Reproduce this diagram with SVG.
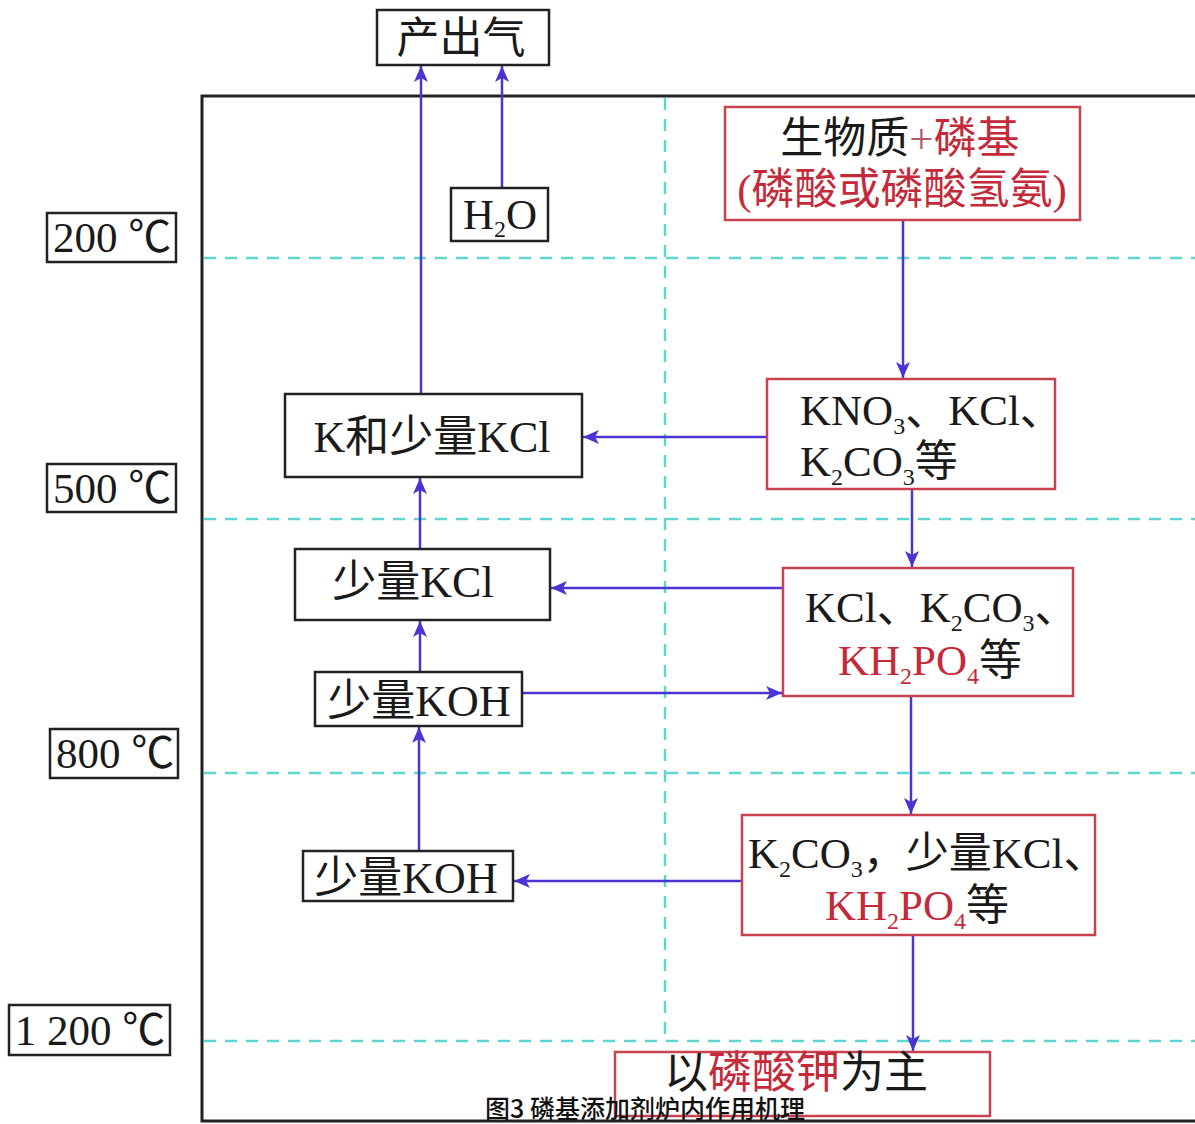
<svg xmlns="http://www.w3.org/2000/svg" width="1195" height="1124" viewBox="0 0 1195 1124">
<style>
.t{font-family:"Liberation Serif","Noto Sans CJK SC",serif;font-size:43px;fill:#1a1a1a}
.l{font-size:44px}
.r{fill:#c42a3a}
.s{font-size:24px}
.bk{fill:#fff;stroke:#222;stroke-width:2.5}
.br{fill:#fff;stroke:#c8414f;stroke-width:2.5}
.grid{stroke:#5fd6cf;stroke-width:2.5;stroke-dasharray:12 9;fill:none}
.ar{stroke:#4a35d2;stroke-width:2.5;fill:none;marker-end:url(#ah)}
.cap{font-family:"Noto Sans CJK SC","Noto Sans",sans-serif;font-size:25px;font-weight:500;fill:#111}
</style>
<defs>
<marker id="ah" viewBox="0 0 16 14" refX="16" refY="7" markerWidth="16" markerHeight="14" markerUnits="userSpaceOnUse" orient="auto">
<path d="M0,0 L16,7 L0,14 L4,7 z" fill="#4a35d2"/>
</marker>
</defs>
<rect x="0" y="0" width="1195" height="1124" fill="#fff"/>
<g id="frame">
<rect x="202" y="96" width="1010" height="1025" fill="none" stroke="#222" stroke-width="3"/>
<line class="grid" x1="204" y1="258" x2="1195" y2="258"/>
<line class="grid" x1="204" y1="519" x2="1195" y2="519"/>
<line class="grid" x1="204" y1="773" x2="1195" y2="773"/>
<line class="grid" x1="204" y1="1041" x2="1195" y2="1041"/>
<line class="grid" x1="665" y1="98" x2="665" y2="1041"/>
</g>
<g id="connectors">
<line class="ar" x1="421" y1="394" x2="421" y2="66"/>
<line class="ar" x1="502" y1="188" x2="502" y2="66"/>
<line class="ar" x1="903" y1="220" x2="903" y2="378"/>
<line class="ar" x1="767" y1="437" x2="583" y2="437"/>
<line class="ar" x1="912" y1="489" x2="912" y2="567"/>
<line class="ar" x1="783" y1="588" x2="551" y2="588"/>
<line class="ar" x1="420" y1="549" x2="420" y2="478"/>
<line class="ar" x1="420" y1="672" x2="420" y2="621"/>
<line class="ar" x1="522" y1="693" x2="782" y2="693"/>
<line class="ar" x1="911" y1="696" x2="911" y2="814"/>
<line class="ar" x1="419" y1="851" x2="419" y2="727"/>
<line class="ar" x1="742" y1="881" x2="514" y2="881"/>
<line class="ar" x1="913" y1="935" x2="913" y2="1051"/>
</g>
<g id="out">
<rect class="bk" x="377" y="10" width="172" height="55"/>
<text class="t" x="461" y="53" text-anchor="middle" font-size="41">产出气</text>
</g>
<g id="h2o">
<rect class="bk" x="451" y="188" width="97" height="53"/>
<text class="t" x="500" y="229" text-anchor="middle" font-size="42">H<tspan class="s" dy="8">2</tspan><tspan dy="-8">O</tspan></text>
</g>
<g id="t200">
<rect class="bk" x="47" y="213" width="129" height="49"/>
<text class="t" x="112" y="252" text-anchor="middle" font-size="41">200 ℃</text>
</g>
<g id="t500">
<rect class="bk" x="47" y="464" width="129" height="48"/>
<text class="t" x="112" y="503" text-anchor="middle" font-size="41">500 ℃</text>
</g>
<g id="t800">
<rect class="bk" x="50" y="729" width="128" height="49"/>
<text class="t" x="115" y="768" text-anchor="middle" font-size="41">800 ℃</text>
</g>
<g id="t1200">
<rect class="bk" x="9" y="1005" width="161" height="50"/>
<text class="t" x="90" y="1045" text-anchor="middle" font-size="41">1 200 ℃</text>
</g>
<g id="biomass">
<rect class="br" x="725" y="107" width="355" height="113"/>
<text class="t" x="900" y="153" text-anchor="middle">生物质<tspan fill="#b05a68">+</tspan><tspan class="r">磷基</tspan></text>
<text class="t r" x="902" y="204" text-anchor="middle" font-size="44">(磷酸或磷酸氢氨)</text>
</g>
<g id="kno3">
<rect class="br" x="767" y="379" width="288" height="110"/>
<text class="t" x="800" y="425">KNO<tspan class="s" dy="9">3</tspan><tspan dy="-9">、KCl、</tspan></text>
<text class="t" x="800" y="476">K<tspan class="s" dy="9">2</tspan><tspan dy="-9">CO</tspan><tspan class="s" dy="9">3</tspan><tspan dy="-9">等</tspan></text>
</g>
<g id="kcl-k2co3">
<rect class="br" x="783" y="568" width="290" height="128"/>
<text class="t" x="805" y="622">KCl、K<tspan class="s" dy="9">2</tspan><tspan dy="-9">CO</tspan><tspan class="s" dy="9">3</tspan><tspan dy="-9">、</tspan></text>
<text class="t" x="838" y="675"><tspan class="r">KH</tspan><tspan class="r s" dy="9">2</tspan><tspan class="r" dy="-9">PO</tspan><tspan class="r s" dy="9">4</tspan><tspan dy="-9">等</tspan></text>
</g>
<g id="k2co3-kcl">
<rect class="br" x="742" y="815" width="353" height="120"/>
<text class="t" x="748" y="868">K<tspan class="s" dy="9">2</tspan><tspan dy="-9">CO</tspan><tspan class="s" dy="9">3</tspan><tspan dy="-9">，少量KCl、</tspan></text>
<text class="t" x="825" y="920"><tspan class="r">KH</tspan><tspan class="r s" dy="9">2</tspan><tspan class="r" dy="-9">PO</tspan><tspan class="r s" dy="9">4</tspan><tspan dy="-9">等</tspan></text>
</g>
<g id="k3po4">
<rect class="br" x="615" y="1052" width="375" height="64"/>
<text class="t l" x="796" y="1088" text-anchor="middle">以<tspan class="r">磷酸钾</tspan>为主</text>
</g>
<g id="k-kcl">
<rect class="bk" x="285" y="394" width="297" height="83"/>
<text class="t l" x="432" y="452" text-anchor="middle">K和少量KCl</text>
</g>
<g id="kcl-small">
<rect class="bk" x="295" y="549" width="255" height="71"/>
<text class="t l" x="413" y="597" text-anchor="middle">少量KCl</text>
</g>
<g id="koh-upper">
<rect class="bk" x="315" y="672" width="207" height="54"/>
<text class="t l" x="419" y="716" text-anchor="middle">少量KOH</text>
</g>
<g id="koh-lower">
<rect class="bk" x="303" y="851" width="210" height="50"/>
<text class="t l" x="406" y="893" text-anchor="middle">少量KOH</text>
</g>
<g id="caption">
<text class="cap" x="645" y="1118" text-anchor="middle">图3 磷基添加剂炉内作用机理</text>
</g>
</svg>
